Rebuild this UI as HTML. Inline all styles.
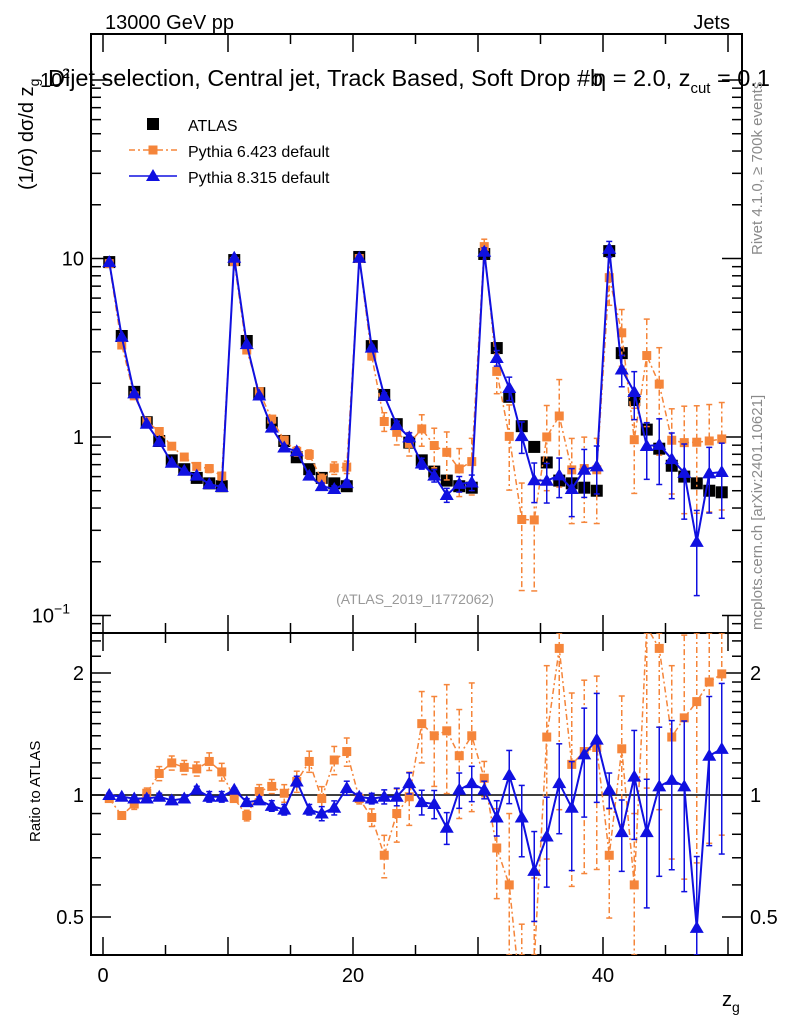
<!DOCTYPE html>
<html><head><meta charset="utf-8"><style>
html,body{margin:0;padding:0;background:#fff;}
svg{display:block;font-family:"Liberation Sans",sans-serif;}
</style></head><body>
<svg id="c" width="786" height="1024" viewBox="0 0 786 1024" xmlns="http://www.w3.org/2000/svg">
<defs>
<clipPath id="cm"><rect x="91" y="34" width="651" height="599"/></clipPath>
<clipPath id="cr"><rect x="91" y="633" width="651" height="322"/></clipPath>
</defs>
<g id="g"></g>
<text x="105" y="29" font-size="20">13000 GeV pp</text>
<text x="730" y="29" font-size="20" text-anchor="end">Jets</text>
<text x="48" y="86" font-size="23.5">Dijet selection, Central jet, Track Based, Soft Drop #b<tspan dx="-10">η</tspan> = 2.0, z<tspan font-size="15" dy="7">cut</tspan><tspan dy="-7"> = 0.1</tspan></text>
<text transform="translate(33,190) rotate(-90)" font-size="20">(1/σ) dσ/d z<tspan font-size="14" dy="6">g</tspan></text>
<text transform="translate(40,842) rotate(-90)" font-size="15">Ratio to ATLAS</text>
<text x="722" y="1006" font-size="20">z<tspan font-size="14" dy="6">g</tspan></text>
<text transform="translate(762,255) rotate(-90)" font-size="15" fill="#8a8a8a">Rivet 4.1.0, ≥ 700k events</text>
<text transform="translate(762,630) rotate(-90)" font-size="15" fill="#8a8a8a">mcplots.cern.ch [arXiv:2401.10621]</text>
<text x="415" y="604" font-size="14" fill="#999" text-anchor="middle">(ATLAS_2019_I1772062)</text>
</svg>
<script>
const atlas=[9.55,3.68,1.79,1.21,0.95,0.74,0.66,0.59,0.55,0.53,
9.8,3.45,1.76,1.2,0.95,0.77,0.66,0.59,0.55,0.53,
10.2,3.23,1.72,1.18,0.93,0.74,0.64,0.57,0.53,0.52,
10.6,3.15,1.68,1.15,0.88,0.72,0.57,0.55,0.52,0.5,
11,2.95,1.61,1.1,0.86,0.69,0.6,0.55,0.5,0.49];
const p6ratio=[0.98,0.89,0.95,1.01,1.13,1.2,1.17,1.16,1.21,1.14,
0.98,0.89,1.02,1.05,1.01,1.08,1.21,0.98,1.22,1.28,
0.98,0.88,0.71,0.9,0.99,1.5,1.4,1.44,1.25,1.4,
1.1,0.74,0.6,0.3,0.39,1.39,2.3,1.19,1.28,1.31,
0.71,1.3,0.6,2.6,2.3,1.39,1.55,1.7,1.9,1.99];
const p6err=[0.02,0.02,0.03,0.03,0.04,0.04,0.04,0.04,0.05,0.05,
0.02,0.03,0.04,0.04,0.05,0.06,0.06,0.07,0.08,0.08,
0.03,0.05,0.12,0.15,0.15,0.2,0.25,0.3,0.3,0.35,
0.1,0.25,0.5,0.6,0.6,0.5,0.6,0.5,0.5,0.5,
0.3,0.35,0.5,0.6,0.6,0.5,0.6,0.6,0.6,0.6];
const p8ratio=[1.0,0.99,0.98,0.98,0.99,0.97,0.98,1.03,0.99,0.99,
1.03,0.96,0.97,0.94,0.92,1.08,0.92,0.9,0.93,1.04,
0.99,0.98,0.99,0.99,1.07,0.96,0.95,0.83,1.03,1.07,
1.03,0.88,1.12,0.88,0.65,0.79,1.07,0.93,1.26,1.37,
1.03,0.81,1.11,0.81,1.05,1.09,1.05,0.47,1.25,1.3];
const p8err=[0.01,0.01,0.01,0.02,0.02,0.02,0.02,0.02,0.03,0.03,
0.01,0.02,0.02,0.03,0.03,0.03,0.03,0.04,0.04,0.04,
0.02,0.03,0.04,0.05,0.06,0.07,0.08,0.09,0.1,0.1,
0.05,0.1,0.15,0.2,0.25,0.25,0.25,0.3,0.3,0.3,
0.1,0.2,0.3,0.35,0.4,0.4,0.45,0.5,0.4,0.45];
const xTicks=[0,20,40];
const mainTicks=[{v:0.1,t:"10",s:"−1"},{v:1,t:"1",s:""},{v:10,t:"10",s:""},{v:100,t:"10",s:"2"}];
const ratioTicks=[0.5,1,2];

const NS="http://www.w3.org/2000/svg";
const g=document.getElementById('g');
const L=91,R=742,T=34,M=633,B=955;
const X=v=>103+12.5*v;
const Ym=v=>437-178.5*Math.log10(v);
const Yr=v=>795-122*Math.log2(v);
function el(tag,at,parent){const e=document.createElementNS(NS,tag);for(const k in at)e.setAttribute(k,at[k]);(parent||g).appendChild(e);return e;}
function clipY(y,top,bot){return Math.max(top,Math.min(bot,y));}

let f1=el('rect',{x:L,y:T,width:R-L,height:M-T,fill:'none',stroke:'#000','stroke-width':2});


let f2=el('rect',{x:L,y:M,width:R-L,height:B-M,fill:'none',stroke:'#000','stroke-width':2});



for(let v=0;v<=50;v+=5){
  const major=v%10===0, len=major?18:10;
  for(const [y0,dir] of [[T,1],[M,-1],[M,1],[B,-1]]){
    el('line',{x1:X(v),x2:X(v),y1:y0,y2:y0+dir*len,stroke:'#000','stroke-width':1.5});
  }
}
xTicks.forEach(v=>{const t=el('text',{x:X(v),y:982,'font-size':20,'text-anchor':'middle'});t.textContent=v;

});

for(let d=-2;d<=2;d++){for(let m=1;m<=9;m++){const v=m*Math.pow(10,d);const y=Ym(v);if(y<T||y>M)continue;const len=m===1?20:10;
 el('line',{x1:L,x2:L+len,y1:y,y2:y,stroke:'#000','stroke-width':1.5});
 el('line',{x1:R,x2:R-len,y1:y,y2:y,stroke:'#000','stroke-width':1.5});}}
mainTicks.forEach(o=>{const t=el('text',{x:o.s?70:84,y:Ym(o.v)+7,'font-size':20,'text-anchor':'end'});t.textContent=o.t;
 if(o.s){const s=el('tspan',{'font-size':14,dy:-9},t);s.textContent=o.s;}
 
 });
[0.4,0.5,0.6,0.7,0.8,0.9,1,1.1,1.2,1.3,1.4,1.5,1.6,1.7,1.8,1.9,2,2.2,2.4].forEach(v=>{const y=Yr(v);if(y<M||y>B)return;const len=(v===0.5||v===1||v===2)?20:10;
 el('line',{x1:L,x2:L+len,y1:y,y2:y,stroke:'#000','stroke-width':1.5});
 el('line',{x1:R,x2:R-len,y1:y,y2:y,stroke:'#000','stroke-width':1.5});});
ratioTicks.forEach(v=>{for(const [x,a] of [[84,'end'],[750,'start']]){const t=el('text',{x:x,y:Yr(v)+7,'font-size':20,'text-anchor':a});t.textContent=v;
 
 }});
el('line',{x1:L,x2:R,y1:Yr(1),y2:Yr(1),stroke:'#000','stroke-width':1.5});

const OR='#f5853a',BL='#1010e0';
function series(vals,errs,ratio,color,dash,marker,name){
  const Y=ratio?Yr:Ym, top=ratio?M:T, bot=ratio?B:M;
  const grp=el('g',{'clip-path':ratio?'url(#cr)':'url(#cm)'});
  
  
  let pts=vals.map((v,i)=>X(i+0.5)+','+Y(v)).join(' ');
  el('polyline',{points:pts,fill:'none',stroke:color,'stroke-width':marker==='tri'?2:1.5,'stroke-dasharray':dash||'none'},grp);
  vals.forEach((v,i)=>{const x=X(i+0.5);const e=errs[i];
    const y1=clipY(Y(v*(1+e)),top,bot),y2=clipY(Y(Math.max(v*(1-e),1e-4)),top,bot);
    el('line',{x1:x,x2:x,y1:y1,y2:y2,stroke:color,'stroke-width':1.5,'stroke-dasharray':dash||'none'},grp);
    el('line',{x1:x-3,x2:x+3,y1:y1,y2:y1,stroke:color,'stroke-width':1.5},grp);
    el('line',{x1:x-3,x2:x+3,y1:y2,y2:y2,stroke:color,'stroke-width':1.5},grp);
    const y=Y(v);if(y<top||y>bot)return;
    let m;
    if(marker==='tri')m=el('polygon',{points:`${x},${y-7} ${x-7},${y+5} ${x+7},${y+5}`,fill:color},grp);
    else m=el('rect',{x:x-4.5,y:y-4.5,width:9,height:9,fill:color},grp);
    
    
  });
}
const ag=el('g',{});


atlas.forEach((v,i)=>{const r=el('rect',{x:X(i+0.5)-6,y:Ym(v)-6,width:12,height:12,fill:'#000'},ag);
 
 });
const p6=atlas.map((v,i)=>v*p6ratio[i]);
const p8=atlas.map((v,i)=>v*p8ratio[i]);
series(p6,p6err,false,OR,'6,3,2,3','sq','pythia6-series');
series(p8,p8err,false,BL,null,'tri','pythia8-series');
series(p6ratio,p6err,true,OR,'6,3,2,3','sq','pythia6-ratio');
series(p8ratio,p8err,true,BL,null,'tri','pythia8-ratio');

const lg=el('g',{});


el('rect',{x:147,y:118,width:12,height:12,fill:'#000'},lg);
el('line',{x1:129,x2:177,y1:150,y2:150,stroke:OR,'stroke-width':1.5,'stroke-dasharray':'6,3,2,3'},lg);
el('rect',{x:148.5,y:145.5,width:9,height:9,fill:OR},lg);
el('line',{x1:129,x2:177,y1:176,y2:176,stroke:BL,'stroke-width':1.5},lg);
el('polygon',{points:'153,169 146,181 160,181',fill:BL},lg);
[["ATLAS",131],["Pythia 6.423 default",157],["Pythia 8.315 default",183]].forEach(a=>{const t=el('text',{x:188,y:a[1],'font-size':16},lg);t.textContent=a[0];
 
 });
</script>
</body></html>
